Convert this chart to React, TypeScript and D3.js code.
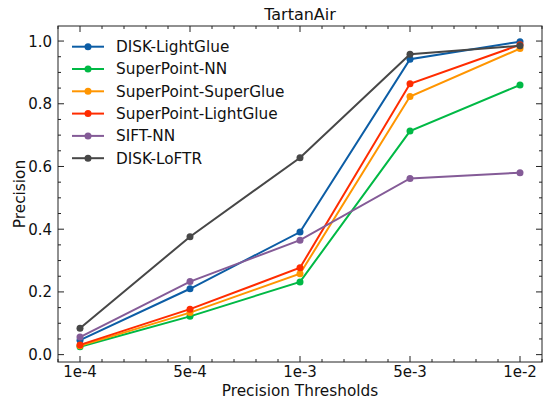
import React, { useEffect, useRef } from "react";
import * as d3 from "d3";

const thresholds = ["1e-4", "5e-4", "1e-3", "5e-3", "1e-2"];
const methods = [
  "DISK-LightGlue",
  "SuperPoint-NN",
  "SuperPoint-SuperGlue",
  "SuperPoint-LightGlue",
  "SIFT-NN",
  "DISK-LoFTR",
];
const diskLightGlue = [0.046, 0.21, 0.391, 0.942, 0.998];
const superPointNN = [0.025, 0.122, 0.232, 0.713, 0.86];
const superPointSuperGlue = [0.028, 0.134, 0.258, 0.823, 0.976];
const superPointLightGlue = [0.031, 0.145, 0.277, 0.864, 0.988];
const siftNN = [0.056, 0.233, 0.365, 0.562, 0.58];
const diskLoFTR = [0.084, 0.376, 0.628, 0.958, 0.985];
const yTicks = [0, 0.2, 0.4, 0.6, 0.8, 1.0];

const colors = ["#0C5DA5", "#00B945", "#FF9500", "#FF2C00", "#845B97", "#474747"];

export default function App() {
  const ref = useRef<SVGSVGElement>(null);

  useEffect(() => {
    const svg = d3.select(ref.current);
    svg.selectAll("*").remove();
    const font = "DejaVu Sans";
    const left = 58, right = 542, top = 26, bottom = 362;

    const series = [diskLightGlue, superPointNN, superPointSuperGlue, superPointLightGlue, siftNN, diskLoFTR];

    // matplotlib-like 5% margins around the 5 categories
    const x = d3.scaleLinear().domain([-0.2, 4.2]).range([left, right]);
    const y = d3.scaleLinear().domain([-0.0235, 1.048]).range([bottom, top]);

    // frame
    svg.append("rect")
      .attr("x", left).attr("y", top)
      .attr("width", right - left).attr("height", bottom - top)
      .attr("fill", "none").attr("stroke", "#222").attr("stroke-width", 1);

    const g = svg.append("g");

    // x ticks (inward, top and bottom)
    const xMinor = d3.range(-0.2, 4.21, 0.2).map((v) => Math.round(v * 10) / 10);
    xMinor.forEach((v) => {
      const major = Number.isInteger(v) && v >= 0 && v <= 4;
      const len = major ? 6 : 3;
      g.append("line").attr("x1", x(v)).attr("x2", x(v)).attr("y1", bottom).attr("y2", bottom - len).attr("stroke", "#222");
      g.append("line").attr("x1", x(v)).attr("x2", x(v)).attr("y1", top).attr("y2", top + len).attr("stroke", "#222");
    });
    thresholds.forEach((t, i) => {
      g.append("text").attr("x", x(i)).attr("y", bottom + 15)
        .attr("text-anchor", "middle").style("font-family", font).style("font-size", "15px")
        .attr("fill", "#111").text(t);
    });

    // y ticks
    d3.range(0, 21).map((k) => k * 0.05).forEach((v) => {
      const major = Math.abs(v * 5 - Math.round(v * 5)) < 1e-6;
      const len = major ? 6 : 3;
      g.append("line").attr("x1", left).attr("x2", left + len).attr("y1", y(v)).attr("y2", y(v)).attr("stroke", "#222");
      g.append("line").attr("x1", right).attr("x2", right - len).attr("y1", y(v)).attr("y2", y(v)).attr("stroke", "#222");
    });
    yTicks.forEach((v) => {
      g.append("text").attr("x", left - 6).attr("y", y(v) + 5.5)
        .attr("text-anchor", "end").style("font-family", font).style("font-size", "15px")
        .attr("fill", "#111").text(v.toFixed(1));
    });

    // lines
    const line = d3.line<number>().x((d, i) => x(i)).y((d) => y(d));
    series.forEach((s, k) => {
      const sg = svg.append("g");
      sg.append("path").datum(s).attr("d", line)
        .attr("fill", "none").attr("stroke", colors[k]).attr("stroke-width", 2);
      sg.selectAll("circle").data(s).enter().append("circle")
        .attr("cx", (d, i) => x(i)).attr("cy", (d) => y(d)).attr("r", 3.5)
        .attr("fill", colors[k]);
    });

    // legend
    methods.forEach((m, k) => {
      const ly = 46.7 + k * 22.3;
      svg.append("line").attr("x1", 72).attr("x2", 104).attr("y1", ly).attr("y2", ly)
        .attr("stroke", colors[k]).attr("stroke-width", 2);
      svg.append("circle").attr("cx", 88).attr("cy", ly).attr("r", 3.5).attr("fill", colors[k]);
      svg.append("text").attr("x", 116).attr("y", ly + 5.3)
        .style("font-family", font).style("font-size", "15.3px").attr("fill", "#111").text(m);
    });

    // labels
    svg.append("text").attr("x", (left + right) / 2).attr("y", 20)
      .attr("text-anchor", "middle").style("font-family", font).style("font-size", "16px")
      .attr("fill", "#111").text("TartanAir");
    svg.append("text").attr("x", (left + right) / 2).attr("y", 395.5)
      .attr("text-anchor", "middle").style("font-family", font).style("font-size", "15.3px")
      .attr("fill", "#111").text("Precision Thresholds");
    svg.append("text")
      .attr("transform", `translate(25,${(top + bottom) / 2})rotate(-90)`)
      .attr("text-anchor", "middle").style("font-family", font).style("font-size", "15.3px")
      .attr("fill", "#111").text("Precision");
  }, []);

  return (
    <div style={{ position: "absolute", left: 0, top: 0 }}>
      <svg width={549} height={403} ref={ref} style={{ display: "block", background: "#fff" }}></svg>
    </div>
  );
}
